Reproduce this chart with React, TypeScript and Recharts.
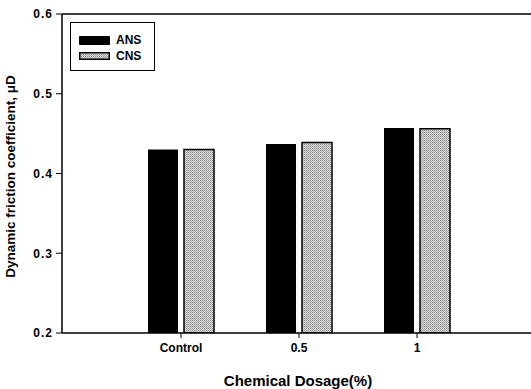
import { BarChart, Bar, XAxis, YAxis, CartesianGrid } from "recharts"

const categories = ["Control", "0.5", "1"]
const ansValues = [0.43, 0.437, 0.457]
const cnsValues = [0.43, 0.439, 0.456]
const yTicks = [0.2, 0.3, 0.4, 0.5, 0.6]

const data = categories.map((name, i) => ({
  name,
  ANS: ansValues[i],
  CNS: cnsValues[i],
}))

const font = "'Liberation Sans', Arial, sans-serif"

// legend sits in the top-left corner of the plot, outside the chart's layout
function LegendBox() {
  const row = (label: string, swatch: React.ReactNode) => (
    <div style={{ display: "flex", alignItems: "center", height: 16 }}>
      {swatch}
      <span style={{ marginLeft: 6, fontSize: 12, fontWeight: 700, fontFamily: font }}>{label}</span>
    </div>
  )
  return (
    <div
      style={{
        position: "absolute",
        left: 70,
        top: 22,
        border: "1px solid #000",
        width: 85,
        height: 49,
        boxSizing: "border-box",
        padding: "9px 0 0 8px",
        background: "#fff",
      }}
    >
      {row("ANS", <div style={{ width: 31, height: 9, background: "#000", borderRadius: 1 }} />)}
      {row(
        "CNS",
        <svg width={31} height={8} style={{ display: "block" }}>
          <rect x={0.75} y={0.75} width={29.5} height={6.5} fill="url(#stipple)" stroke="#000" strokeWidth={1.5} />
        </svg>
      )}
    </div>
  )
}

export default function App() {
  return (
    <div style={{ position: "absolute", left: 0, top: 0, width: 531, height: 389, overflow: "hidden", background: "#fff" }}>
      <BarChart
        width={540}
        height={389}
        data={data}
        margin={{ top: 14, right: 6, left: 0, bottom: 0 }}
        barSize={30}
        barGap={6}
      >
        <defs>
          <pattern id="stipple" width={2} height={2} patternUnits="userSpaceOnUse">
            <rect width={2} height={2} fill="#dcdcdc" />
            <rect width={1} height={1} fill="#8c8c8c" />
            <rect x={1} y={1} width={1} height={1} fill="#a8a8a8" />
          </pattern>
        </defs>
        {/* top frame line at 0.6 only */}
        <CartesianGrid vertical={false} horizontalValues={[0.6]} stroke="#000" strokeWidth={1.5} />
        <XAxis
          dataKey="name"
          padding={{ left: 60, right: 58 }}
          height={56}
          axisLine={{ stroke: "#000", strokeWidth: 1.5 }}
          tickLine={{ stroke: "#000" }}
          tickSize={5}
          tick={{ fill: "#000", fontSize: 12, fontWeight: 700, fontFamily: font, dy: 3 }}
          label={{
            value: "Chemical Dosage(%)",
            position: "insideBottom",
            offset: 3,
            fill: "#000",
            fontSize: 15,
            fontWeight: 700,
            fontFamily: font,
          }}
        />
        <YAxis
          width={62}
          domain={[0.2, 0.6]}
          ticks={yTicks}
          allowDataOverflow
          tickFormatter={(v: number) => v.toFixed(1)}
          axisLine={{ stroke: "#000", strokeWidth: 1.5 }}
          tickLine={{ stroke: "#000" }}
          tickSize={6}
          tickMargin={3}
          tick={{ fill: "#000", fontSize: 12, fontWeight: 700, fontFamily: font, letterSpacing: 1 }}
          label={{
            value: "Dynamic friction coefficient, μD",
            angle: -90,
            position: "insideLeft",
            offset: 10,
            dy: 3,
            style: { textAnchor: "middle" },
            fill: "#000",
            fontSize: 13.5,
            fontWeight: 700,
            fontFamily: font,
          }}
        />
        <Bar dataKey="ANS" fill="#000" isAnimationActive={false} />
        <Bar dataKey="CNS" fill="url(#stipple)" stroke="#000" strokeWidth={1.5} isAnimationActive={false} />
      </BarChart>
      <LegendBox />
    </div>
  )
}
